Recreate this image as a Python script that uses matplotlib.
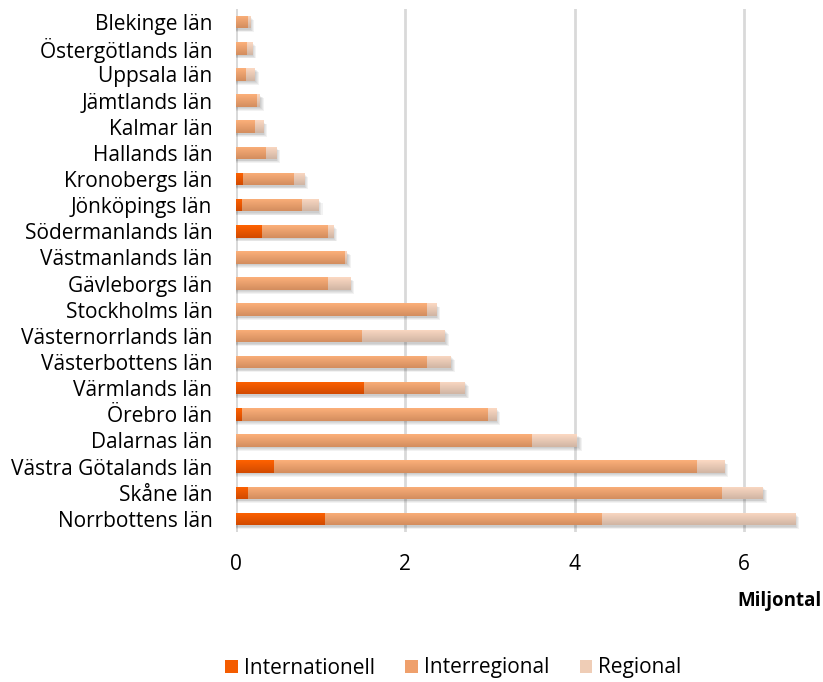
import numpy as np
import matplotlib
matplotlib.use("Agg")
import matplotlib.pyplot as plt
from matplotlib.patches import Patch
from matplotlib.colors import to_rgb

plt.rcParams['font.family'] = ['Open Sans', 'DejaVu Sans']

# Counties, listed bottom to top
lan = [
    "Norrbottens län", "Skåne län", "Västra Götalands län", "Dalarnas län",
    "Örebro län", "Värmlands län", "Västerbottens län", "Västernorrlands län",
    "Stockholms län", "Gävleborgs län", "Västmanlands län", "Södermanlands län",
    "Jönköpings län", "Kronobergs län", "Hallands län", "Kalmar län",
    "Jämtlands län", "Uppsala län", "Östergötlands län", "Blekinge län",
]

# Tonnage in millions per traffic type
internationell = [1.05, 0.14, 0.45, 0.00, 0.07, 1.51, 0.00, 0.00, 0.00, 0.00,
                  0.00, 0.31, 0.07, 0.08, 0.00, 0.00, 0.00, 0.00, 0.00, 0.00]
interregional = [3.27, 5.60, 4.99, 3.50, 2.90, 0.90, 2.26, 1.49, 2.25, 1.08,
                 1.29, 0.77, 0.71, 0.60, 0.35, 0.225, 0.25, 0.12, 0.13, 0.14]
regional = [2.28, 0.48, 0.32, 0.53, 0.10, 0.29, 0.28, 0.97, 0.11, 0.26,
            0.02, 0.06, 0.19, 0.12, 0.12, 0.095, 0.03, 0.105, 0.06, 0.025]

series = ["Internationell", "Interregional", "Regional"]
top_colors = ["#FF6200", "#FCB07A", "#FCD9C3"]
bottom_colors = ["#D24A00", "#D38D5E", "#D0B5A3"]
x_ticks = [0, 2, 4, 6]

fig = plt.figure(figsize=(8.23, 6.82), dpi=100)
ax = fig.add_axes([0.2868, 0.2199, 0.6895, 0.7669])

y = np.arange(len(lan))
bar_h = 0.48
values = [np.array(internationell), np.array(interregional), np.array(regional)]


def gradient_fill(patch, c_top, c_bot, zorder):
    """Fill a bar with a vertical gradient, light on top, darker below."""
    x0, y0 = patch.get_x(), patch.get_y()
    w, h = patch.get_width(), patch.get_height()
    if w <= 0:
        return
    t = np.linspace(0, 1, 64)[:, None]
    ct, cb = np.array(to_rgb(c_top)), np.array(to_rgb(c_bot))
    img = cb[None, None, :] * (1 - t[..., None]) + ct[None, None, :] * t[..., None]
    im = ax.imshow(img, extent=[x0, x0 + w, y0, y0 + h], origin='lower',
                   aspect='auto', zorder=zorder, interpolation='bilinear')
    im.set_clip_path(patch)


# Soft drop shadow under each full bar
totals = values[0] + values[1] + values[2]
for yi, tot in zip(y, totals):
    for k in range(4):
        off = 0.015 + k * 0.012
        dy = 0.06 + k * 0.03
        ax.add_patch(plt.Rectangle((0, yi - bar_h / 2 - dy), tot + off,
                                   bar_h, facecolor='black', alpha=0.05,
                                   edgecolor='none', zorder=2))

left = np.zeros(len(lan))
for vals, ct, cb, name in zip(values, top_colors, bottom_colors, series):
    bars = ax.barh(y, vals, left=left, height=bar_h, color=ct,
                   edgecolor='none', zorder=3, label=name)
    for p in bars:
        gradient_fill(p, ct, cb, 4)
    left = left + vals

ax.set_xlim(0, 6.7)
ax.set_ylim(-0.5, len(lan) - 0.5)
ax.set_yticks(y)
ax.set_yticklabels(lan, fontsize=15)
ax.set_xticks(x_ticks)
ax.set_xticklabels([str(v) for v in x_ticks], fontsize=15)
ax.tick_params(axis='both', length=0)
ax.tick_params(axis='y', pad=17)
ax.tick_params(axis='x', pad=16)
ax.xaxis.grid(True, color='#D9D9D9', linewidth=2, zorder=0)
ax.set_axisbelow(True)
for s in ax.spines.values():
    s.set_visible(False)
ax.axvline(0, color='#D9D9D9', linewidth=2, zorder=1)

fig.text(0.998, 1 - 601 / 682, "Miljontal", ha='right', va='center',
         fontsize=13.5, fontweight='bold')

handles = [Patch(facecolor=c, edgecolor='none') for c in ["#F45C00", "#EFA06C", "#EFCDB6"]]
fig.legend(handles, series, loc='center', bbox_to_anchor=(0.551, 1 - 668 / 682),
           ncol=3, frameon=False, fontsize=15, handlelength=0.6,
           handleheight=0.6, handletextpad=0.3, columnspacing=1.45)

fig.savefig("out.png", dpi=100)
